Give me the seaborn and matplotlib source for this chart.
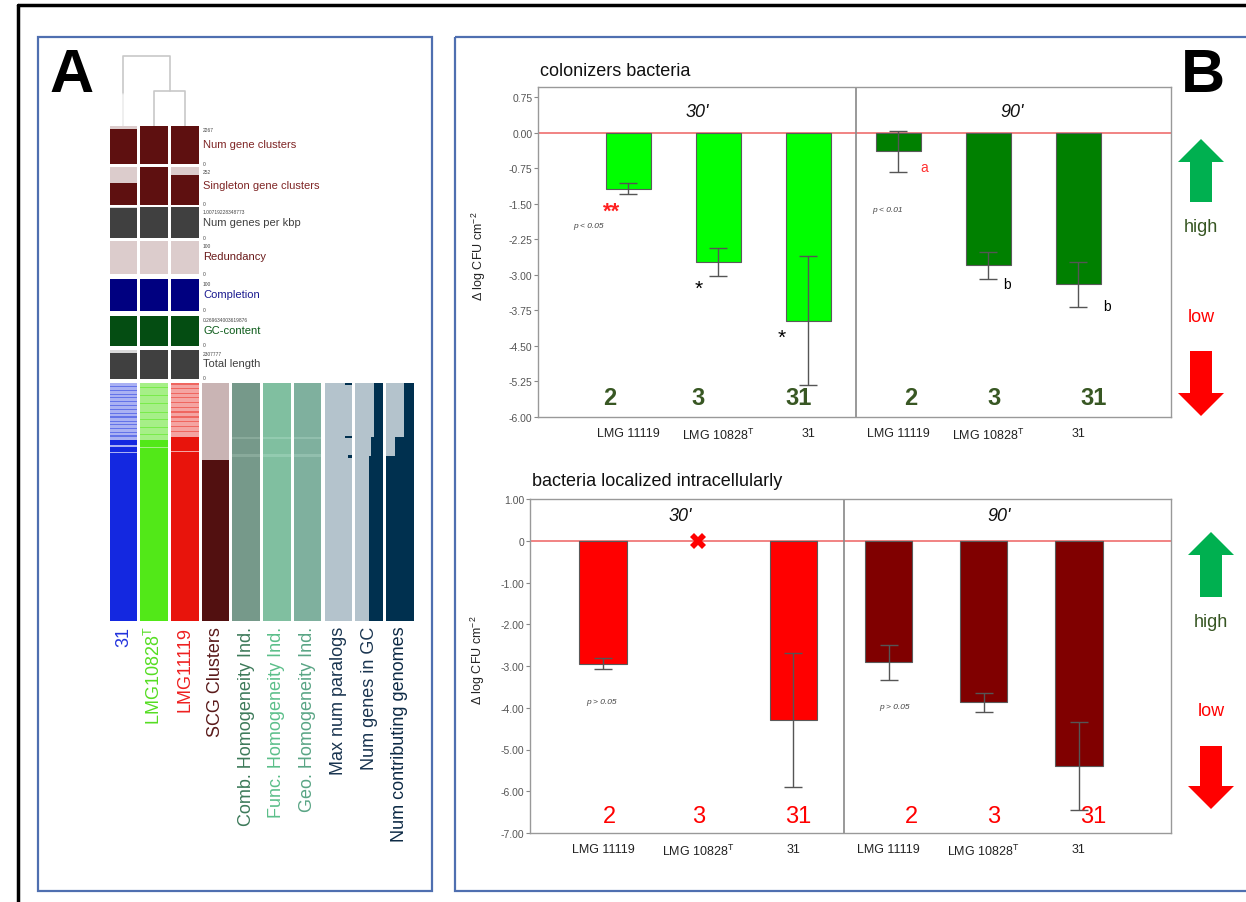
import numpy as np
import pandas as pd
import matplotlib
matplotlib.use("Agg")
import matplotlib.pyplot as plt
from matplotlib.patches import FancyArrow, Rectangle
import seaborn as sns

# ---- data: panel B ----
strains = ["LMG 11119", "LMG 10828$^{\\rm T}$", "31"]
times = ["30'", "90'"]
col_30 = [-1.18, -2.73, -3.97]
col_30_err = [0.12, 0.30, 1.36]
col_90 = [-0.39, -2.80, -3.20]
col_90_err = [0.43, 0.29, 0.48]
intra_30 = [-2.95, np.nan, -4.29]
intra_30_err = [0.13, np.nan, 1.60]
intra_90 = [-2.91, -3.87, -5.39]
intra_90_err = [0.42, 0.22, 1.05]
strain_numbers = ["2", "3", "31"]

# ---- data: panel A ----
genomes = ["31", "LMG10828$^{\\rm T}$", "LMG11119"]
layer_names = ["Num gene clusters", "Singleton gene clusters", "Num genes per kbp",
               "Redundancy", "Completion", "GC-content", "Total length"]
layer_max_txt = ["2267", "252", "1.00719228348773", "100", "100", "0.269634003619876", "2307777"]
layer_max = [2267, 252, 1.00719, 100, 100, 0.26963, 2307777]
layer_vals = [[2108, 2267, 2267],
              [149, 252, 199],
              [0.99, 1.00719, 1.0],
              [1.0, 1.0, 1.0],
              [100, 100, 100],
              [0.2696, 0.2696, 0.2696],
              [2100000, 2307777, 2300000]]
heat_names = ["31", "LMG10828$^{\\rm T}$", "LMG11119", "SCG Clusters",
              "Comb. Homogeneity Ind.", "Func. Homogeneity Ind.", "Geo. Homogeneity Ind.",
              "Max num paralogs", "Num genes in GC", "Num contributing genomes"]
core_start = 0.307   # fraction of gene clusters (top = 0)
scg_start = 0.324
# (start, end) of presence stripes inside the variable part, per genome
present_31 = [(0.012, 0.016), (0.03, 0.034), (0.045, 0.05), (0.06, 0.064), (0.075, 0.08),
              (0.092, 0.096), (0.108, 0.113), (0.125, 0.129), (0.14, 0.146), (0.158, 0.162),
              (0.172, 0.177), (0.19, 0.195), (0.205, 0.21), (0.22, 0.226), (0.24, 0.262),
              (0.268, 0.29), (0.295, 0.307)]
present_10828 = [(0.018, 0.022), (0.05, 0.054), (0.085, 0.09), (0.12, 0.124), (0.15, 0.155),
                 (0.185, 0.19), (0.215, 0.22), (0.24, 0.27), (0.275, 0.307)]
present_11119 = [(0.0, 0.008), (0.02, 0.026), (0.04, 0.046), (0.06, 0.064), (0.078, 0.084),
                 (0.1, 0.105), (0.118, 0.124), (0.14, 0.146), (0.16, 0.165), (0.18, 0.186),
                 (0.2, 0.205), (0.227, 0.285), (0.29, 0.307)]
contrib_steps = [(0.0, 0.227, 1), (0.227, core_start, 2), (core_start, 1.0, 3)]
gc_gene_steps = [(0.0, 0.227, 1), (0.227, core_start, 1.4), (core_start, 1.0, 1.55)]
paralog_marks = [(0.0, 0.008, 0.22), (0.224, 0.23, 0.22), (0.302, 0.314, 0.15)]

W, H = 1246, 903
sns.set_style("white")
plt.rcParams["font.family"] = ["Liberation Sans", "DejaVu Sans"]
plt.rcParams["mathtext.fontset"] = "custom"
plt.rcParams["mathtext.rm"] = "Liberation Sans"
plt.rcParams["mathtext.it"] = "Liberation Sans:italic"
plt.rcParams["text.color"] = "black"

fig = plt.figure(figsize=(W / 100, H / 100), dpi=100)


def rect(x0, y0, x1, y1):
    return [x0 / W, 1 - y1 / H, (x1 - x0) / W, (y1 - y0) / H]


# overlay in pixel space for frames, arrows, panel letters
ov = fig.add_axes([0, 0, 1, 1])
ov.set_xlim(0, W)
ov.set_ylim(H, 0)
ov.axis("off")
ov.plot([18, W], [6, 6], color="black", lw=2.5)
ov.plot([18, 18], [6, H], color="black", lw=2.5)
ov.add_patch(Rectangle((38, 38), 394, 854, fill=False, ec="#4f6fb0", lw=1.6))
ov.add_patch(Rectangle((455, 38), 820, 854, fill=False, ec="#4f6fb0", lw=1.6))
ov.text(72, 76, "A", fontsize=44, fontweight="bold", color="black", ha="center", va="center")
ov.text(1203, 76, "B", fontsize=44, fontweight="bold", color="black", ha="center", va="center")

for cx, up_tip, up_base, hi_y, lo_y, dn_top, dn_tip in [(1201, 140, 203, 228, 318, 352, 417),
                                                        (1211, 533, 598, 623, 712, 747, 810)]:
    ov.add_patch(FancyArrow(cx, up_base, 0, up_tip - up_base, width=22, head_width=46,
                            head_length=23, length_includes_head=True, color="#00b050", lw=0))
    ov.add_patch(FancyArrow(cx, dn_top, 0, dn_tip - dn_top, width=22, head_width=46,
                            head_length=23, length_includes_head=True, color="#ff0000", lw=0))
    ov.text(cx, hi_y, "high", fontsize=13, color="#375623", ha="center", va="center")
    ov.text(cx, lo_y, "low", fontsize=13, color="#ff0000", ha="center", va="center")

# ---- panel A: dendrogram ----
dax = fig.add_axes(rect(108.1, 55, 200.4, 127))
dax.set_xlim(-0.5, 2.5)
dax.set_ylim(0, 1)
dax.axis("off")
dcol = "#c8c8c8"
dax.plot([1, 1, 2, 2], [0, 0.49, 0.49, 0], color=dcol, lw=1.2)
dax.plot([1.5, 1.5, 0, 0], [0.49, 0.97, 0.97, 0.45], color=dcol, lw=1.2)
dax.plot([0, 0], [0.45, 0], color="#ececec", lw=1.2)

hw = 0.9

# ---- panel A: layer bars ----
layer_px = [(127, 165), (168, 206), (208, 239), (242, 275), (280, 312), (317, 347), (351, 380)]
layer_col = ["#5e1010", "#5e1010", "#404040", "#5e1010", "#000080", "#044d12", "#404040"]
layer_bg = ["#dccccc", "#dccccc", "#d9d9d9", "#dccccc", "#ccccee", "#cce0cc", "#d9d9d9"]
layer_txt = ["#7f2525", "#7f2525", "#404040", "#6b1b1b", "#1a1a90", "#0b5a18", "#404040"]
for i, name in enumerate(layer_names):
    t, b = layer_px[i]
    lax = fig.add_axes(rect(108.1, t, 200.4, b))
    lax.bar(range(3), [layer_max[i]] * 3, width=hw, color=layer_bg[i], linewidth=0)
    lax.bar(range(3), layer_vals[i], width=hw, color=layer_col[i], linewidth=0)
    lax.set_xlim(-0.5, 2.5)
    lax.set_ylim(0, layer_max[i])
    lax.axis("off")
    fig.text(203 / W, 1 - (t + 4) / H, layer_max_txt[i], fontsize=3.5, color="#444", va="center")
    fig.text(203 / W, 1 - (b - 1) / H, "0", fontsize=3.5, color="#444", va="center")
    fig.text(203 / W, 1 - ((t + b) / 2 - 1) / H, name, fontsize=8, color=layer_txt[i], va="center")

# ---- panel A: gene cluster columns ----
hax = fig.add_axes(rect(108.1, 384, 415.1, 622))
hax.set_xlim(-0.5, 9.5)
hax.set_ylim(1, 0)
hax.axis("off")


def seg(x, s0, s1, color, width=hw, align="center"):
    hax.bar(x, s1 - s0, bottom=s0, width=width, align=align, color=color, linewidth=0)


gen_dark = ["#1428e0", "#52e818", "#e8140c"]
gen_light = ["#aab1f3", "#a6ef88", "#f4a4a2"]
gen_mid = ["#6473e9", "#7aeb4c", "#ef6660"]
for g, stripes in enumerate([present_31, present_10828, present_11119]):
    seg(g, 0, core_start, gen_light[g])
    for s0, s1 in stripes:
        seg(g, s0, s1, gen_mid[g] if s1 - s0 < 0.01 else gen_dark[g])
    seg(g, core_start, 1, gen_dark[g])
seg(3, 0, scg_start, "#c9b4b4")
seg(3, scg_start, 1, "#521010")
for k, c, c2 in zip([4, 5, 6], ["#76998a", "#80bfa0", "#7fb09e"], ["#89aa9b", "#93cbb0", "#92bfae"]):
    seg(k, 0, 1, c)
    seg(k, 0.227, 0.235, c2)
    seg(k, 0.298, 0.31, c2)
for k in [7, 8, 9]:
    seg(k, 0, 1, "#b4c3cc")
for s0, s1, w in paralog_marks:
    seg(7 + hw / 2 - w, s0, s1, "#00304f", width=w, align="edge")
for s0, s1, v in gc_gene_steps:
    w = hw * v / 3.2
    seg(8 + hw / 2 - w, s0, s1, "#00304f", width=w, align="edge")
for s0, s1, v in contrib_steps:
    w = hw * v / 3
    seg(9 + hw / 2 - w, s0, s1, "#00304f", width=w, align="edge")

heat_txt = ["#2233dd", "#55dd22", "#ee2020", "#5a1a1a", "#3d7a5a", "#5cbf8a", "#5aa585",
            "#1a3550", "#1a3550", "#0d2a45"]
for k, name in enumerate(heat_names):
    hax.text(k, 1.02, name, rotation=90, ha="center", va="top", fontsize=13,
             color=heat_txt[k], transform=hax.transData)

# ---- panel B: bar charts ----
slots = [t + " " + s for t in times for s in strains]


def bar_panel(box, values, errs, colors, ylim, xlim, yticks, yticklabels, title, title_xy,
              num_x, num_y, num_style, time_y, time_x, ylabel_xy):
    ax = fig.add_axes(rect(*box))
    df = pd.DataFrame({"slot": slots, "time": [t for t in times for s in strains],
                       "value": values})
    sns.barplot(data=df, x="slot", y="value", hue="time", order=slots, hue_order=times,
                palette=colors, saturation=1, dodge=False, width=0.5, errorbar=None,
                edgecolor="#5a5a5a", linewidth=0.8, legend=False, ax=ax)
    ax.axhline(0, color="#f07a7a", lw=1.3, zorder=0.5)
    ax.errorbar(range(6), values, yerr=errs, fmt="none", ecolor="#555555", elinewidth=1,
                capsize=6.5, capthick=1)
    ax.set_xlim(*xlim)
    ax.set_ylim(*ylim)
    ax.axvline(2.53, color="#888888", lw=1.2)
    ax.set_yticks(yticks)
    ax.set_yticklabels(yticklabels)
    ax.set_xticks(range(6))
    ax.set_xticklabels(strains * 2)
    ax.tick_params(axis="x", length=0, pad=7, labelsize=9, labelcolor="#222222")
    ax.tick_params(axis="y", left=True, length=3, width=0.8, color="#888888", labelsize=7.5,
                   labelcolor="#555555", pad=1)
    for sp in ax.spines.values():
        sp.set_color("#999999")
        sp.set_linewidth(1)
    ax.set_xlabel("")
    ax.set_ylabel("$\\Delta$ log CFU cm$^{-2}$", fontsize=9, color="#222222")
    ax.yaxis.set_label_coords(*ylabel_xy)
    for x, lab in zip(time_x, times):
        ax.text(x, time_y, lab, style="italic", fontsize=13, color="#111111", ha="center", va="center")
    for x, n in zip(num_x, strain_numbers * 2):
        ax.text(x, num_y, n, ha="center", va="center", **num_style)
    fig.text(title_xy[0] / W, 1 - title_xy[1] / H, title, fontsize=13, color="#111111", va="center")
    return ax


top = bar_panel((538, 88, 1171, 418),
                col_30 + col_90, col_30_err + col_90_err, {"30'": "#00ff00", "90'": "#008000"},
                (-6, 0.97), (-1.0, 6.03), np.arange(-6, 0.76, 0.75),
                ["%.2f" % v for v in np.arange(-6, 0.76, 0.75)],
                "colonizers bacteria", (540, 72),
                [-0.2, 0.78, 1.89, 3.14, 4.06, 5.17], -5.58,
                dict(fontsize=17, fontweight="bold", color="#385723"),
                0.46, [0.77, 4.27], (-0.079, 0.49))
top.text(-0.18, -1.66, "**", color="#ff2020", fontsize=16, fontweight="bold", ha="center", va="center")
top.text(-0.44, -1.96, "p < 0.05", style="italic", fontsize=6, color="#444444", ha="center", va="center")
top.text(0.78, -3.28, "*", fontsize=15, color="black", ha="center", va="center")
top.text(1.71, -4.32, "*", fontsize=15, color="black", ha="center", va="center")
top.text(3.29, -0.72, "a", color="#ff3030", fontsize=10, ha="center", va="center")
top.text(2.88, -1.62, "p < 0.01", style="italic", fontsize=6, color="#444444", ha="center", va="center")
top.text(4.21, -3.19, "b", fontsize=10, color="black", ha="center", va="center")
top.text(5.32, -3.66, "b", fontsize=10, color="black", ha="center", va="center")

bot_ticks = np.arange(-7, 1.01, 1.0)
bot = bar_panel((530, 500, 1171, 834),
                intra_30 + intra_90, intra_30_err + intra_90_err,
                {"30'": "#ff0000", "90'": "#800000"},
                (-7, 1.0), (-0.77, 5.97), bot_ticks,
                ["0" if v == 0 else "%.2f" % v for v in bot_ticks],
                "bacteria localized intracellularly", (532, 482),
                [0.07, 1.0, 2.05, 3.24, 4.1, 5.15], -6.6,
                dict(fontsize=17, color="#ff0000"),
                0.6, [0.81, 4.16], (-0.067, 0.52))
bot.plot([1], [0], marker="X", color="#ff0000", markersize=12, markeredgewidth=0)
bot.text(-0.02, -3.84, "p > 0.05", style="italic", fontsize=6, color="#444444", ha="center", va="center")
bot.text(3.06, -3.98, "p > 0.05", style="italic", fontsize=6, color="#444444", ha="center", va="center")

fig.savefig("out.png", dpi=100)
